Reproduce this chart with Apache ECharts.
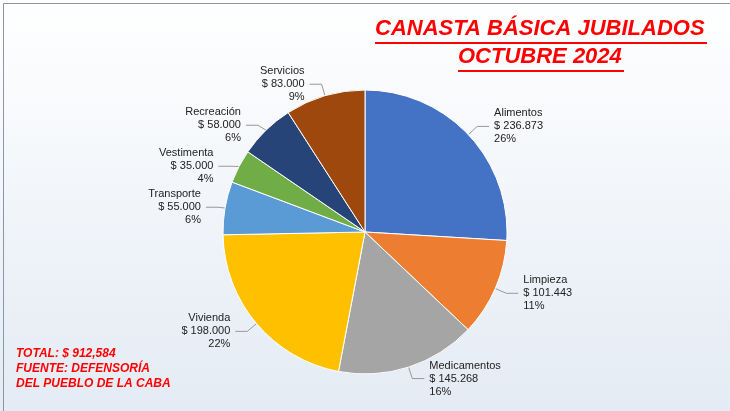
<!DOCTYPE html>
<html>
<head>
<meta charset="utf-8">
<script src="https://cdn.jsdelivr.net/npm/echarts@6/dist/echarts.min.js"></script>
<style>
  html, body { margin: 0; padding: 0; }
  #chart { width: 730px; height: 411px; }
</style>
</head>
<body>
<div id="chart"></div>
<script>
// rubros de la canasta, en sentido horario desde las 12
const categories = ['Alimentos', 'Limpieza', 'Medicamentos', 'Vivienda', 'Transporte', 'Vestimenta', 'Recreación', 'Servicios'];
const amounts = [236873, 101443, 145268, 198000, 55000, 35000, 58000, 83000];
const percents = [26, 11, 16, 22, 6, 4, 6, 9];
const colors = ['#4472C4', '#ED7D31', '#A5A5A5', '#FFC000', '#5B9BD5', '#70AD47', '#264478', '#9E480E'];

const fmt = v => String(v).replace(/\B(?=(\d{3})+(?!\d))/g, '.');

const chart = echarts.init(document.getElementById('chart'));

chart.setOption({
  backgroundColor: {
    type: 'linear', x: 0, y: 0, x2: 0, y2: 1,
    colorStops: [{ offset: 0, color: '#ffffff' }, { offset: 1, color: '#e4ebf4' }]
  },
  graphic: [
    {
      type: 'rect', left: 1, top: 1,
      shape: { width: 727, height: 408 },
      style: { fill: 'none', stroke: '#8a97a8', lineWidth: 1 }
    },
    {
      type: 'text', left: 375, top: 18,
      style: {
        text: 'CANASTA BÁSICA JUBILADOS', fill: '#ff0000',
        font: 'italic bold 22px Arial'
      }
    },
    { type: 'rect', left: 375, top: 42, shape: { width: 332, height: 2 }, style: { fill: '#ff0000' } },
    {
      type: 'text', left: 458, top: 46,
      style: { text: 'OCTUBRE 2024', fill: '#ff0000', font: 'italic bold 22px Arial' }
    },
    { type: 'rect', left: 458, top: 70, shape: { width: 166, height: 2 }, style: { fill: '#ff0000' } },
    {
      type: 'text', left: 16, top: 346,
      style: {
        text: 'TOTAL: $ 912,584\nFUENTE: DEFENSORÍA\nDEL PUEBLO DE LA CABA',
        fill: '#ff0000', font: 'italic bold 12px Arial', lineHeight: 15
      }
    }
  ],
  series: [{
    type: 'pie',
    center: [365, 232],
    radius: 142,
    startAngle: 90,
    clockwise: true,
    color: colors,
    itemStyle: { borderColor: '#ffffff', borderWidth: 1 },
    label: {
      color: '#222', fontFamily: 'Arial', fontSize: 11, lineHeight: 13, align: 'center',
      formatter: p => p.name + '\n$ ' + fmt(amounts[p.dataIndex]) + '\n' + percents[p.dataIndex] + '%'
    },
    labelLine: { length: 12, length2: 12, lineStyle: { color: '#999' } },
    data: categories.map((c, i) => ({ name: c, value: amounts[i] }))
  }]
});
</script>
</body>
</html>
